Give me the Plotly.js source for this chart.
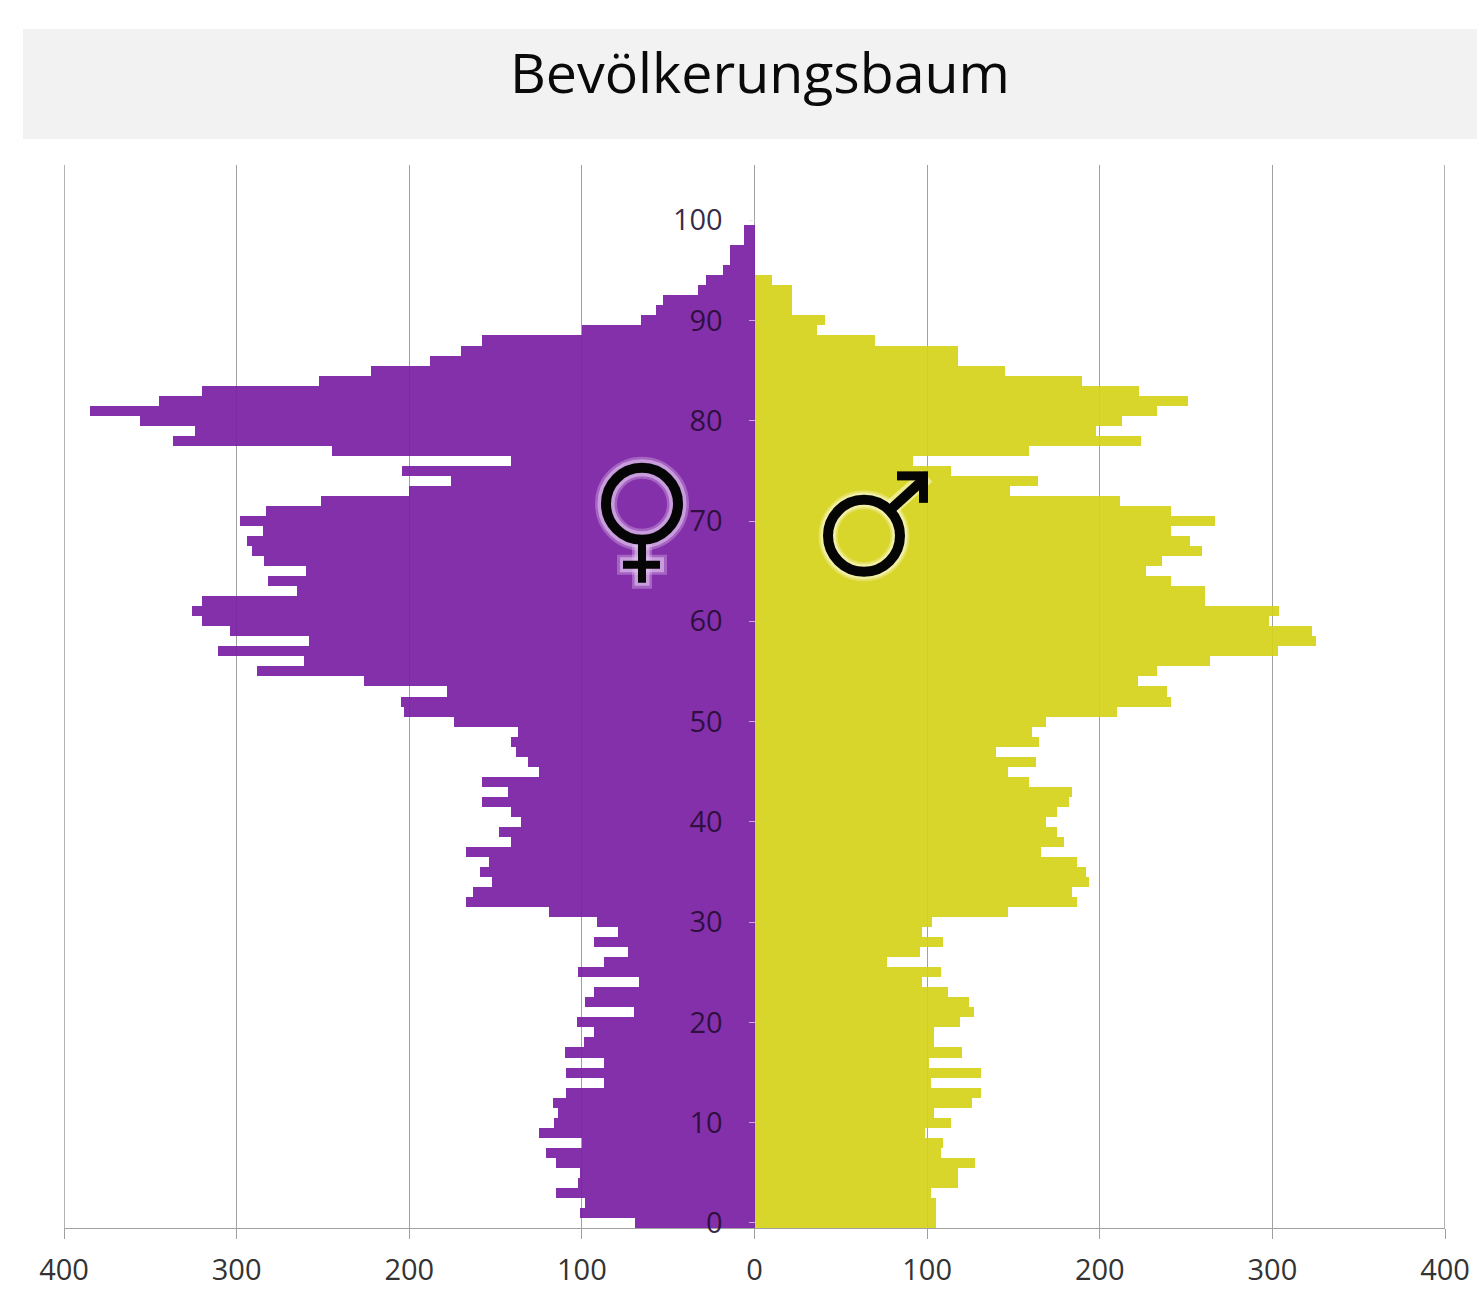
<!DOCTYPE html>
<html>
<head>
<meta charset="utf-8">
<script src="https://cdn.plot.ly/plotly-3.0.1.min.js"></script>
<style>html,body{margin:0;padding:0;background:#fff;overflow:hidden}</style>
</head>
<body>
<div id="chart" style="width:1477px;height:1291px"></div>
<script>
const chartTitle = 'Bevölkerungsbaum';
const xTickValues = [-400,-300,-200,-100,0,100,200,300,400];
const xTickLabels = ['400','300','200','100','0','100','200','300','400'];
const yTickValues = [0,10,20,30,40,50,60,70,80,90,100];
// index = age, 0 .. 99
const women = [
 69,101,98,115,102,101,115,121,100,125,
 116,114,117,109,87,109,87,110,99,93,
 103,70,98,93,67,102,87,73,93,79,
 91,119,167,163,152,159,154,167,141,148,
 135,141,158,143,158,125,131,138,141,137,
 174,203,205,178,226,288,261,311,258,304,
 320,326,320,265,282,260,284,291,294,285,
 298,283,251,200,176,204,141,245,337,324,
 356,385,345,320,252,222,188,170,158,100,
 66,57,53,33,28,18,14,14,6,6];
const men = [
 105,105,105,102,118,118,128,108,109,99,
 114,104,126,131,102,131,101,120,104,104,
 119,127,124,112,97,108,77,96,109,97,
 103,147,187,184,194,192,187,166,179,175,
 169,175,182,184,159,147,163,140,165,161,
 169,210,241,239,222,233,264,303,325,323,
 298,304,261,261,241,227,236,259,252,241,
 267,241,212,148,164,114,92,159,224,198,
 213,233,251,223,190,145,118,118,70,36,
 41,22,22,22,10,0,0,0,0,0];
const ages = women.map((_, i) => i);

const purple = 'rgb(121,30,163)';
const yellow = 'rgb(213,209,25)';
const greyLine = '#a0a0a0';

// symbol helpers, anchored in data space and sized in pixels
const px2x = p => (p - 754.5) / 1.72625;
const px2y = p => (1228 - p) / 10.04 - 0.5;
function ring(cx, cy, r, color, w) {
  return {type:'circle', xref:'x', yref:'y', xsizemode:'pixel', ysizemode:'pixel',
    xanchor:px2x(cx), yanchor:px2y(cy), x0:-r, x1:r, y0:-r, y1:r,
    line:{color:color, width:w}, fillcolor:'rgba(0,0,0,0)'};
}
function seg(x0, y0, x1, y1, color, w) {
  return {type:'line', xref:'x', yref:'y', x0:px2x(x0), x1:px2x(x1), y0:px2y(y0), y1:px2y(y1),
    line:{color:color, width:w}};
}
const glowF1 = 'rgba(225,195,240,0.35)';
const glowF2 = 'rgba(225,195,240,0.6)';
const glowM1 = 'rgba(252,250,205,0.35)';
const glowM2 = 'rgba(252,250,205,0.6)';
const black = '#050505';

const edgeLine = v => ({type:'line', xref:'x', yref:'paper', layer:'below',
   x0:v, x1:v, y0:0, y1:1, line:{color:greyLine, width:1.6}});

const shapes = [
  {type:'rect', xref:'paper', yref:'paper', layer:'below',
   x0:(23-64)/1381, x1:(1477-64)/1381, y0:(1228-139)/1063, y1:(1228-29)/1063,
   fillcolor:'#f2f2f2', line:{width:0}},
  edgeLine(-400), edgeLine(400),
  // female symbol
  ring(642,503,36,glowF1,22), ring(642,503,36,glowF2,17),
  seg(642,540,642,588,glowF1,20), seg(642,540,642,585,glowF2,15),
  seg(617,564,667,564,glowF1,20), seg(620,564,664,564,glowF2,15),
  ring(642,503,36,black,10),
  seg(642,538,642,582,black,8),
  seg(623,564,660,564,black,8),
  // male symbol
  ring(864,535,36,glowM1,19), ring(864,535,36,glowM2,15),
  seg(890,508,927,475,glowM2,16),
  ring(864,535,36,black,10),
  seg(888,511,921,481,black,10),
  seg(897,475,928,475,black,9),
  seg(923.5,471,923.5,502,black,9)
];

const traces = [
  {type:'bar', orientation:'h', name:'Frauen', y:ages, x:women.map(v => -v),
   marker:{color:purple, opacity:0.92, line:{width:0}}, hoverinfo:'skip'},
  {type:'bar', orientation:'h', name:'Männer', y:ages, x:men,
   marker:{color:yellow, opacity:0.92, line:{width:0}}, hoverinfo:'skip'}
];

const font = '"Open Sans", sans-serif';
const layout = {
  width:1477, height:1291,
  margin:{l:64, r:32, t:165, b:63, pad:0},
  paper_bgcolor:'#fff', plot_bgcolor:'#fff',
  showlegend:false, barmode:'overlay', bargap:0,
  font:{family:font, color:'#333'},
  title:{text:chartTitle, font:{family:font, size:55.5, color:'#0a0a0a'},
         x:760/1477, xanchor:'center', xref:'container',
         y:1-74/1291, yanchor:'middle', yref:'container'},
  xaxis:{range:[-400,400], tickmode:'array', tickvals:xTickValues, ticktext:xTickLabels,
         showgrid:true, gridcolor:greyLine, gridwidth:1, zeroline:false,
         showline:true, linecolor:greyLine, linewidth:1,
         ticks:'outside', ticklen:10, tickcolor:greyLine, tickwidth:1,
         tickfont:{family:font, size:29, color:'#333'}, ticklabelstandoff:6},
  yaxis:{range:[-0.5,105.5], tickmode:'array', tickvals:yTickValues,
         anchor:'free', position:0.5, side:'left',
         showgrid:false, zeroline:false, showline:false,
         ticks:'outside', ticklen:6, tickcolor:'rgba(225,225,225,0.7)', tickwidth:1,
         tickfont:{family:font, size:29, color:'rgba(35,12,50,0.9)'}, ticklabelstandoff:20},
  shapes:shapes
};
Plotly.newPlot('chart', traces, layout, {displayModeBar:false, staticPlot:true});
</script>
</body>
</html>
